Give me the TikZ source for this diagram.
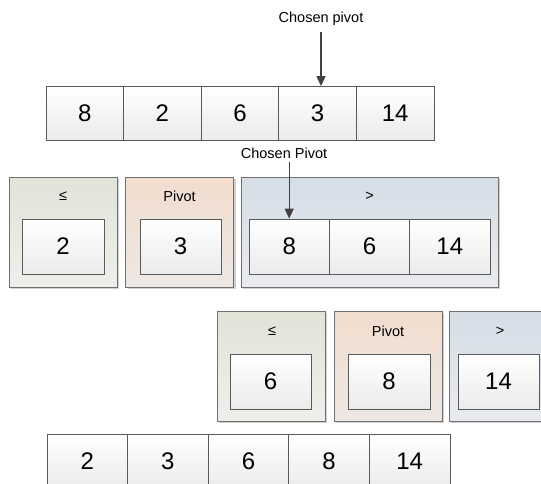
\documentclass[tikz,border=0pt]{standalone}
\usepackage{fontspec}
\setmainfont{Liberation Sans}
\usetikzlibrary{shadows,arrows.meta}
\definecolor{cellborder}{HTML}{5A5A5A}
\definecolor{cellbot}{HTML}{EBEBEB}
\definecolor{boxborder}{HTML}{707070}
\definecolor{gtop}{HTML}{E0E4D7}
\definecolor{gbot}{HTML}{EEEFEB}
\definecolor{otop}{HTML}{F2DDCE}
\definecolor{obot}{HTML}{EDE7E3}
\definecolor{btop}{HTML}{D5DDE7}
\definecolor{bbot}{HTML}{E9EBEE}
\definecolor{arrcol}{HTML}{404040}
\tikzset{
  cell/.style={draw=cellborder, line width=0.9pt, top color=white, bottom color=cellbot,
    minimum height=54pt, inner sep=0pt, font=\fontsize{24}{24}\selectfont},
  group/.style={draw=boxborder, line width=0.9pt, minimum width=108pt, minimum height=110pt,
    inner sep=0pt, drop shadow={shadow xshift=2pt, shadow yshift=-2pt, opacity=0.18, fill=black}},
  leq/.style={group, top color=gtop, bottom color=gbot},
  piv/.style={group, top color=otop, bottom color=obot},
  gtr/.style={group, top color=btop, bottom color=bbot},
  lbl/.style={font=\fontsize{14.5}{14.5}\selectfont, inner sep=1pt},
  arr/.style={draw=arrcol, line width=1.4pt, -{Triangle[length=10pt,width=9pt]}}
}
\begin{document}
\begin{tikzpicture}[x=1pt,y=-1pt]
\useasboundingbox (0,0) rectangle (541,483);
% top row
\node[cell, minimum width=77.6pt] (a1) at (84.8,113.5) {8};
\node[cell, minimum width=77.6pt] (a2) at (162.4,113.5) {2};
\node[cell, minimum width=77.6pt] (a3) at (240,113.5) {6};
\node[cell, minimum width=77.6pt] (a4) at (317.6,113.5) {3};
\node[cell, minimum width=77.6pt] (a5) at (395.2,113.5) {14};
\node[lbl] (cp1) at (321,19) {Chosen pivot};
\draw[arr, shorten <=5pt] (cp1.south) -- (cp1.south |- a4.north);
\node[lbl] (cp2) at (284,153) {Chosen Pivot};
% second row
\node[leq] (g1) at (63,232) {};
\node[piv] (p1) at (179.5,232) {};
\node[gtr, minimum width=257pt] (b1) at (369.5,232) {};
\node[lbl] (g1l) at (63,196) {≤};
\node[lbl] (p1l) at (179.5,196) {Pivot};
\node[lbl] (b1l) at (369.5,196) {>};
\node[cell, minimum width=82pt, minimum height=55pt] (g1c) at (63,246.5) {2};
\node[cell, minimum width=81pt, minimum height=55pt] (p1c) at (180.5,246.5) {3};
\node[cell, minimum width=80.33pt, minimum height=55pt] (b1c1) at (289.2,246.5) {8};
\node[cell, minimum width=80.33pt, minimum height=55pt] (b1c2) at (369.5,246.5) {6};
\node[cell, minimum width=80.33pt, minimum height=55pt] (b1c3) at (449.8,246.5) {14};
\draw[arr, shorten <=2pt] (b1c1.north |- cp2.south) -- (b1c1.north);
% third row
\node[leq] (g2) at (271,366) {};
\node[piv] (p2) at (388,366) {};
\node[gtr] (b2) at (503,366) {};
\node[lbl] (g2l) at (272,331) {≤};
\node[lbl] (p2l) at (388,331) {Pivot};
\node[lbl] (b2l) at (500,331) {>};
\node[cell, minimum width=81pt, minimum height=55pt] (g2c) at (270.5,381.5) {6};
\node[cell, minimum width=82pt, minimum height=55pt] (p2c) at (389,381.5) {8};
\node[cell, minimum width=81pt, minimum height=55pt] (b2c) at (498.5,381.5) {14};
% bottom row
\node[cell, minimum width=80.6pt, minimum height=55pt] (c1) at (87.3,461.5) {2};
\node[cell, minimum width=80.6pt, minimum height=55pt] (c2) at (167.9,461.5) {3};
\node[cell, minimum width=80.6pt, minimum height=55pt] (c3) at (248.5,461.5) {6};
\node[cell, minimum width=80.6pt, minimum height=55pt] (c4) at (329.1,461.5) {8};
\node[cell, minimum width=80.6pt, minimum height=55pt] (c5) at (409.7,461.5) {14};
\end{tikzpicture}
\end{document}
